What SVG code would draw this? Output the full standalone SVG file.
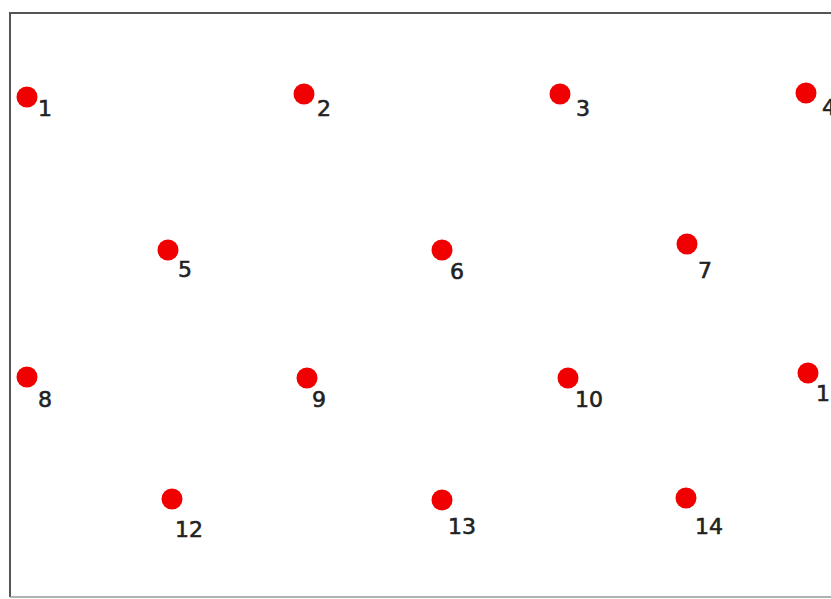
<svg xmlns="http://www.w3.org/2000/svg" width="831" height="599" viewBox="0 0 831 599">
<style>
.dot{fill:#f00000}
.lbl{font-family:"DejaVu Sans","Liberation Sans",sans-serif;font-size:22px;fill:#222;stroke:#222;stroke-width:0.6}
</style>
<rect x="0" y="0" width="831" height="599" fill="#fff"/>
<path d="M10,597 V13 H840" fill="none" stroke="#555" stroke-width="2"/>
<line x1="10" y1="597" x2="840" y2="597" stroke="#999" stroke-width="1.5"/>
<g id="connectors"/>
<g id="n1"><circle class="dot" cx="27" cy="97" r="10.5"/><text class="lbl" x="38" y="116">1</text></g>
<g id="n2"><circle class="dot" cx="304" cy="94" r="10.5"/><text class="lbl" x="317" y="116">2</text></g>
<g id="n3"><circle class="dot" cx="560" cy="94" r="10.5"/><text class="lbl" x="576" y="116">3</text></g>
<g id="n4"><circle class="dot" cx="806" cy="93" r="10.5"/><text class="lbl" x="822" y="115">4</text></g>
<g id="n5"><circle class="dot" cx="168" cy="250" r="10.5"/><text class="lbl" x="178" y="277">5</text></g>
<g id="n6"><circle class="dot" cx="442" cy="250" r="10.5"/><text class="lbl" x="450" y="279">6</text></g>
<g id="n7"><circle class="dot" cx="687" cy="244" r="10.5"/><text class="lbl" x="698" y="278">7</text></g>
<g id="n8"><circle class="dot" cx="27" cy="377" r="10.5"/><text class="lbl" x="38" y="407">8</text></g>
<g id="n9"><circle class="dot" cx="307" cy="378" r="10.5"/><text class="lbl" x="312" y="407">9</text></g>
<g id="n10"><circle class="dot" cx="568" cy="378" r="10.5"/><text class="lbl" x="575" y="407">10</text></g>
<g id="n11"><circle class="dot" cx="808" cy="373" r="10.5"/><text class="lbl" x="816" y="401">11</text></g>
<g id="n12"><circle class="dot" cx="172" cy="499" r="10.5"/><text class="lbl" x="175" y="537">12</text></g>
<g id="n13"><circle class="dot" cx="442" cy="500" r="10.5"/><text class="lbl" x="448" y="534">13</text></g>
<g id="n14"><circle class="dot" cx="686" cy="498" r="10.5"/><text class="lbl" x="695" y="534">14</text></g>
</svg>
